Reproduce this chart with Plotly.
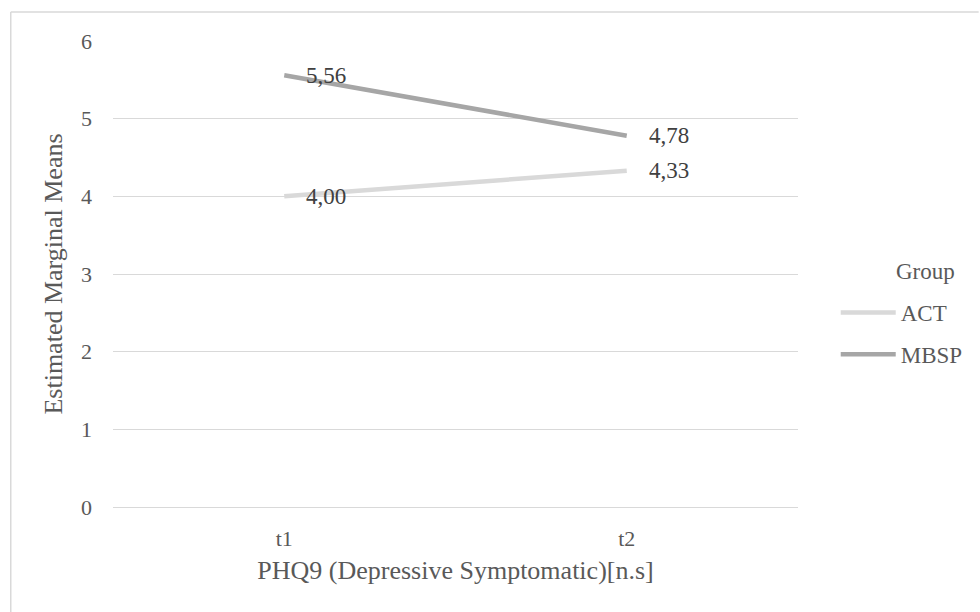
import plotly.graph_objects as go

categories = ["t1", "t2"]
groups = ["ACT", "MBSP"]
act_values = [4.00, 4.33]
mbsp_values = [5.56, 4.78]
y_ticks = [0, 1, 2, 3, 4, 5, 6]
colors = {"ACT": "#d9d9d9", "MBSP": "#a6a6a6"}

series = {"ACT": act_values, "MBSP": mbsp_values}

FONT = "Liberation Serif"
TXT = "#595959"

fig = go.Figure()
for g in groups:
    fig.add_trace(go.Scatter(
        x=categories, y=series[g], mode="lines", name=g, legendgroup=g,
        line=dict(color=colors[g], width=4.5),
    ))

L, R, T, B = 113, 177, 41, 105
W, H = 980, 612
pw, ph = W - L - R, H - T - B

def px_to_paper_x(px):
    return (px - L) / pw

def px_to_paper_y(py):
    return (H - B - py) / ph

annotations = []
for g in groups:
    for c, v in zip(categories, series[g]):
        annotations.append(dict(
            x=c, y=v, xref="x", yref="y",
            text=f"{v:.2f}".replace(".", ","),
            showarrow=False, xanchor="left", yanchor="middle",
            xshift=20, font=dict(family=FONT, size=23, color="#404040"),
        ))
annotations.append(dict(
    x=px_to_paper_x(900), y=px_to_paper_y(271), xref="paper", yref="paper",
    text="Group", showarrow=False, xanchor="left", yanchor="middle",
    font=dict(family=FONT, size=23, color=TXT),
))

shapes = [
    dict(type="line", xref="paper", yref="paper",
         x0=px_to_paper_x(10), x1=px_to_paper_x(985),
         y0=px_to_paper_y(12), y1=px_to_paper_y(12),
         line=dict(color="#d9d9d9", width=1.5)),
    dict(type="line", xref="paper", yref="paper",
         x0=px_to_paper_x(10), x1=px_to_paper_x(10),
         y0=px_to_paper_y(12), y1=px_to_paper_y(620),
         line=dict(color="#d9d9d9", width=1.5)),
]

fig.update_layout(
    width=W, height=H,
    margin=dict(l=L, r=R, t=T, b=B),
    paper_bgcolor="white", plot_bgcolor="white",
    font=dict(family=FONT, size=22, color=TXT),
    showlegend=True,
    legend=dict(
        x=px_to_paper_x(841), y=px_to_paper_y(291), xanchor="left", yanchor="top",
        font=dict(family=FONT, size=23, color=TXT),
        itemwidth=55, tracegroupgap=9,
        bgcolor="rgba(0,0,0,0)",
    ),
    xaxis=dict(
        range=[-0.5, 1.5], showgrid=False, zeroline=False, showline=False,
        ticks="", ticklabelstandoff=16, tickfont=dict(family=FONT, size=22, color=TXT),
        title=dict(text="PHQ9 (Depressive Symptomatic)[n.s]", font=dict(family=FONT, size=26, color=TXT), standoff=10),
    ),
    yaxis=dict(
        range=[0, 6], tickvals=y_ticks, showgrid=True, gridcolor="#d9d9d9", gridwidth=1.3,
        zeroline=True, zerolinecolor="#d9d9d9", zerolinewidth=1.3, showline=False, ticks="", ticklabelstandoff=20,
        tickfont=dict(family=FONT, size=22, color=TXT),
        title=dict(text="Estimated Marginal Means", font=dict(family=FONT, size=26, color=TXT), standoff=10),
    ),
    annotations=annotations,
    shapes=shapes,
)

fig.write_html("out.html")
